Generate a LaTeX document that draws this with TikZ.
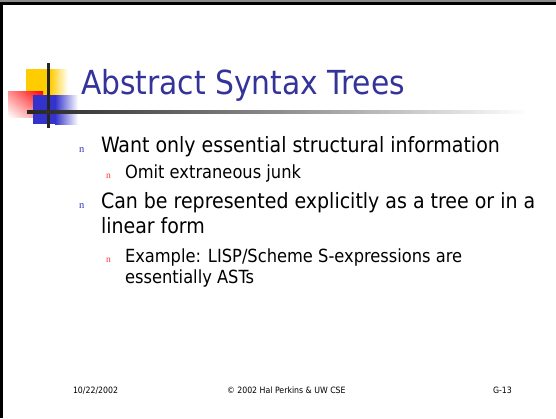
\documentclass[tikz,border=0pt]{standalone}
\usepackage{fontspec}
\usetikzlibrary{shadings}
\setmainfont{DejaVu Sans Condensed}
\newfontfamily\bulletfont{Liberation Serif}
\definecolor{titleblue}{HTML}{333399}
\definecolor{bulletblue}{HTML}{3333CC}
\definecolor{bulletred}{HTML}{FF3333}
\definecolor{decoyellow}{HTML}{FFCC00}
\definecolor{decoblue}{HTML}{3333CC}
\begin{document}
\begin{tikzpicture}[x=1pt,y=-1pt,
  txt/.style={anchor=base west,inner sep=0pt,outer sep=0pt},
  lvlone/.style={txt,font=\fontsize{21.1}{25}\selectfont},
  lvltwo/.style={txt,font=\fontsize{18.1}{21}\selectfont},
  bulone/.style={txt,text=bulletblue,font=\bulletfont\fontsize{10.5}{12}\selectfont},
  bultwo/.style={txt,text=bulletred,font=\bulletfont\fontsize{9.5}{11}\selectfont},
  foot/.style={txt,font=\fontsize{8.7}{10}\selectfont}]
% page
\useasboundingbox (0,0) rectangle (556,418);
\fill[white] (0,0) rectangle (556,418);
% frame
\fill[black!45] (0,0) rectangle (556,2);
\fill[black] (0,2) rectangle (556,5);
\fill[black] (0,2) rectangle (3,418);
% title ornament
\fill[decoyellow] (26,69) rectangle (50,95);
\shade[left color=decoyellow,right color=white] (50,69) rectangle (68,95);
\shade[upper right=red,lower left=white,upper left=red!45!white,lower right=red!45!white] (8,91) rectangle (43,117);
\fill[decoblue] (33,95) rectangle (55,124);
\shade[left color=decoblue,right color=white] (55,95) rectangle (78,124);
\fill[black!85] (47,63) rectangle (49.5,128);
\shade[left color=black!85,right color=white,middle color=black!45] (27,110.5) rectangle (528,113.5);
% title
\node[txt,text=titleblue,font=\fontsize{33.1}{39}\selectfont] (title) at (81,94) {Abstract Syntax Trees};
% bullets
\node[bulone] (b1) at (79,152) {n};
\node[lvlone] (t1) at (101,152) {Want only essential structural information};
\node[bultwo] (b2) at (106,178) {n};
\node[lvltwo] (t2) at (125,178) {Omit extraneous junk};
\node[bulone] (b3) at (79,208) {n};
\node[lvlone] (t3) at (101,208) {Can be represented explicitly as a tree or in a};
\node[lvlone] (t3b) at (101,233) {linear form};
\node[bultwo] (b4) at (106,262) {n};
\node[lvltwo] (t4) at (125,262) {Example: LISP/Scheme S-expressions are};
\node[lvltwo] (t4b) at (125,283) {essentially ASTs};
% footer
\node[foot] (date) at (73,393) {10/22/2002};
\node[foot] (copy) at (227,393) {© 2002 Hal Perkins \& UW CSE};
\node[foot] (page) at (493,393) {G-13};
\end{tikzpicture}
\end{document}
